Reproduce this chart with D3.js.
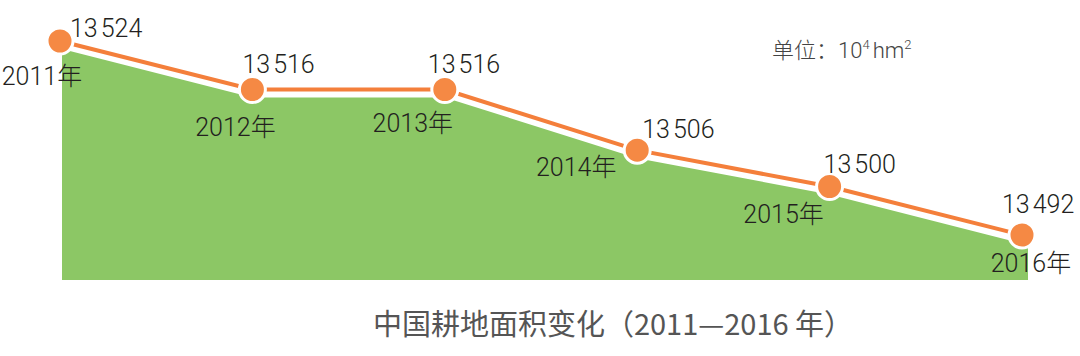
<!DOCTYPE html>
<html><head><meta charset="utf-8">
<script src="https://cdn.jsdelivr.net/npm/d3@7"></script>
<style>
html,body{margin:0;padding:0;background:#fff;}
svg{display:block;}
</style></head>
<body>
<svg id="chart" width="1080" height="356"></svg>
<script>
// ---- data ----
const years = [2011, 2012, 2013, 2014, 2015, 2016];
const areaValues = [13524, 13516, 13516, 13506, 13500, 13492];
const yearLabels = ["2011年", "2012年", "2013年", "2014年", "2015年", "2016年"];
const titleText = "中国耕地面积变化（2011—2016 年）";
const unitText = "单位：";

// ---- layout (not data) ----
const valueOffsets = [[10, -4], [-10, -17], [-17, -17], [5, -12], [-6, -14], [-20, -22]];
const yearOffsets = [[-18, 44], [-17, 46], [-32, 42], [-61, 26], [-46, 36], [9, 37]];

const W = 1080, H = 356;
const svg = d3.select("#chart");
const x = d3.scalePoint().domain(years).range([60, 1022]);
const y = d3.scaleLinear().domain([13492, 13524]).range([235, 41]);
const baseY = 280;
const n = years.length;
const pts = years.map((yr, i) => ({year: yr, v: areaValues[i], i}));

const xa = (d) => x(d.year) + (d.i === 0 ? 2 : d.i === n - 1 ? 6 : 0);
const ya = (d) => y(d.v) + 8 + (d.i === n - 1 ? 2 : 0);

// green area
svg.append("path")
  .datum(pts)
  .attr("d", d3.area().x(xa).y0(baseY).y1(ya))
  .attr("fill", "#8cc765");

// orange line
svg.append("path")
  .datum(pts)
  .attr("d", d3.line().x(d => x(d.year)).y(d => y(d.v)))
  .attr("fill", "none")
  .attr("stroke", "#f47f3b")
  .attr("stroke-width", 4);

// circles
svg.selectAll("circle.pt").data(pts).join("circle")
  .attr("class", "pt")
  .attr("cx", d => x(d.year))
  .attr("cy", d => y(d.v))
  .attr("r", 13)
  .attr("fill", "#f58944")
  .attr("stroke", "#fff")
  .attr("stroke-width", 3);

const font = "Roboto, 'Liberation Sans', Arial, 'Noto Sans CJK SC', sans-serif";
const fmt = (v) => { const s = String(v); return [s.slice(0, s.length - 3), s.slice(-3)]; };

// value labels
const vl = svg.selectAll("text.val").data(pts).join("text")
  .attr("class", "val")
  .attr("x", d => x(d.year) + valueOffsets[d.i][0])
  .attr("y", d => y(d.v) + valueOffsets[d.i][1])
  .attr("font-family", font)
  .attr("font-weight", 300)
  .attr("font-size", 25)
  .attr("fill", "#231f20");
vl.append("tspan").text(d => fmt(d.v)[0]);
vl.append("tspan").attr("dx", 3).text(d => fmt(d.v)[1]);

// year labels
svg.selectAll("text.yr").data(pts).join("text")
  .attr("class", "yr")
  .attr("x", d => x(d.year) + yearOffsets[d.i][0])
  .attr("y", d => y(d.v) + yearOffsets[d.i][1])
  .attr("text-anchor", "middle")
  .attr("font-family", font)
  .attr("font-weight", 300)
  .attr("font-size", 25)
  .attr("fill", "#231f20")
  .text(d => yearLabels[d.i]);

// unit
const u = svg.append("text")
  .attr("x", 772).attr("y", 58)
  .attr("font-family", font)
  .attr("font-weight", 300)
  .attr("font-size", 22)
  .attr("fill", "#444");
u.append("tspan").attr("font-family", "'Noto Sans CJK SC', sans-serif").attr("font-size", 22).text(unitText);
u.append("tspan").text("10");
u.append("tspan").attr("font-size", 13).attr("dy", -9).text("4");
u.append("tspan").attr("dy", 9).attr("dx", 3).text("hm");
u.append("tspan").attr("font-size", 13).attr("dy", -9).text("2");

// title
svg.append("text")
  .attr("x", 613).attr("y", 335)
  .attr("text-anchor", "middle")
  .attr("font-family", "'Noto Sans CJK SC', sans-serif")
  .attr("font-size", 29)
  .attr("fill", "#555")
  .text(titleText);
</script>
</body></html>
